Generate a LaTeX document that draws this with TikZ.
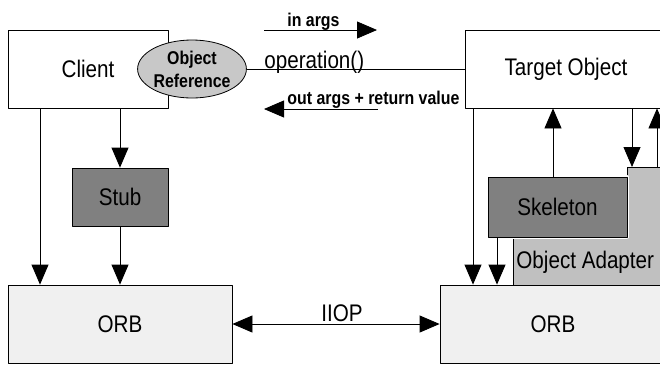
\documentclass[tikz,border=0pt]{standalone}
\usepackage{fontspec}
\setmainfont{Liberation Sans}[FakeStretch=0.86]
\usetikzlibrary{arrows.meta,shapes.geometric}
\definecolor{stubgray}{HTML}{808080}
\definecolor{adaptgray}{HTML}{C0C0C0}
\definecolor{refgray}{HTML}{C8C8C8}
\definecolor{orbgray}{HTML}{F0F0F0}
\tikzset{
  box/.style={draw,rectangle,inner sep=0pt,font=\fontsize{24}{26}\selectfont},
  lbl/.style={inner sep=0pt,font=\bfseries\fontsize{18.5}{20}\selectfont},
  plain/.style={inner sep=0pt,font=\fontsize{24}{26}\selectfont}
}
\begin{document}
\begin{tikzpicture}[x=1pt,y=-1pt,line width=0.8pt,line join=round,>={Triangle[length=20pt,width=17pt]}]
	\useasboundingbox (0,0) rectangle (660,365);
	\clip (0,0) rectangle (660,365);
	
	% client side
	\node[box,minimum width=160pt,minimum height=78pt] (client) at (88,69) {Client};
	\node[box,fill=stubgray,minimum width=96pt,minimum height=58pt] (stub) at (120,197) {Stub};
	\node[box,fill=orbgray,minimum width=224pt,minimum height=78pt] (orbL) at (120,324) {ORB};
	\node[ellipse,draw,fill=refgray,minimum width=98pt,minimum height=58pt,inner sep=0pt,align=center,
		font=\bfseries\fontsize{18.5}{23}\selectfont] (ref) at (192,69) {Object\\Reference};
	
	% server side
	\node[box,minimum width=202pt,minimum height=78pt] (target) at (566,69) {Target Object};
	\draw[fill=adaptgray] (513,285) -- (513,238) -- (627,238) -- (627,167) coordinate (oastep)
		-- (680,167) -- (680,285) -- cycle;
	\node[plain,anchor=west] (oalbl) at (516,262) {Object Adapter};
	\node[box,fill=stubgray,minimum width=139pt,minimum height=60pt,
		preaction={draw=white,line width=4pt}] (skel) at (557.5,207) {Skeleton};
	\node[box,fill=orbgray,minimum width=226pt,minimum height=78pt] (orbR) at (553,324) {ORB};
	
	% invocation
	\draw (ref) -- (target);
	\node[plain,anchor=base west] (op) at (264,68) {operation()};
	\coordinate (inS) at (264,30);
	\coordinate (inE) at (377,30);
	\draw[->] (inS) -- (inE);
	\node[lbl,anchor=base west] (inlbl) at (287,26) {in args};
	\coordinate (outS) at (378,109);
	\coordinate (outE) at (264,109);
	\draw[->] (outS) -- (outE);
	\node[lbl,anchor=base west] (outlbl) at (287,104.5) {out args + return value};
	
	% IIOP
	\draw[<->] (orbL) -- (orbR);
	\node[plain,anchor=base] (iiop) at (342,321) {IIOP};
	
	% vertical links
	\coordinate (xa) at (40,0);
	\coordinate (xb) at (473,0);
	\coordinate (xc) at (497,0);
	\coordinate (xd) at (553,0);
	\coordinate (xe) at (632,0);
	\coordinate (xf) at (657,0);
	\draw[->] (xa |- client.south) -- (xa |- orbL.north);
	\draw[->] (stub |- client.south) -- (stub.north);
	\draw[->] (stub.south) -- (stub |- orbL.north);
	\draw[->] (xb |- target.south) -- (xb |- orbR.north);
	\draw[->] (xc |- skel.south) -- (xc |- orbR.north);
	\draw[->] (xd |- skel.north) -- (xd |- target.south);
	\draw[->] (xe |- target.south) -- (xe |- oastep);
	\draw[->] (xf |- oastep) -- (xf |- target.south);
\end{tikzpicture}
\end{document}
